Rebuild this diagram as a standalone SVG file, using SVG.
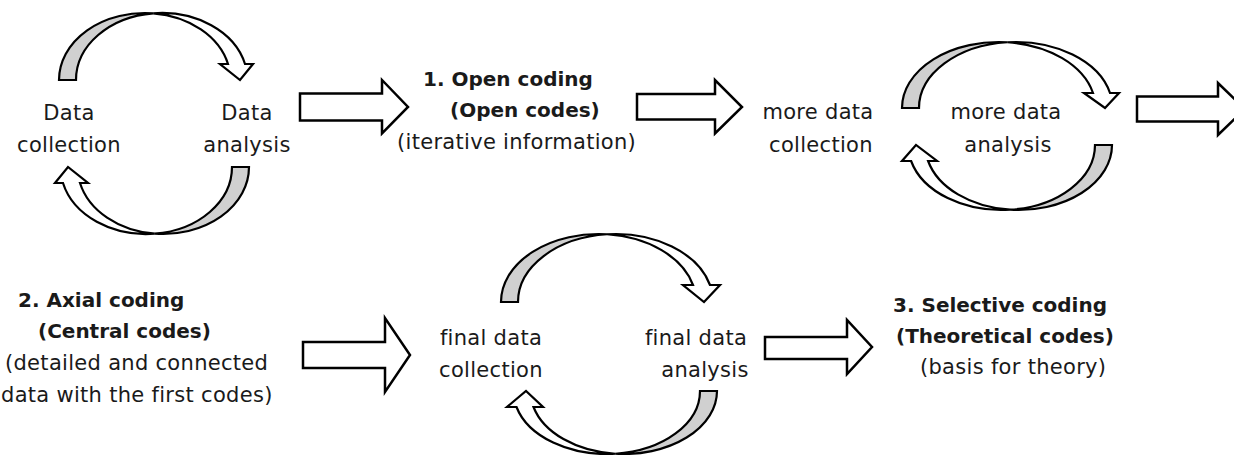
<svg xmlns="http://www.w3.org/2000/svg" width="1234" height="455" viewBox="0 0 1234 455">
<style>
.bg{fill:#fff}
.back{fill:#d0d0d0;stroke:#000;stroke-width:2.2;stroke-linejoin:miter}
.front{fill:#fff;stroke:#000;stroke-width:2.2;stroke-linejoin:miter}
.blk{fill:#fff;stroke:#000;stroke-width:2.5;stroke-linejoin:miter}
text{font-family:"DejaVu Sans",Verdana,sans-serif;font-size:21px;fill:#1a1a1a;letter-spacing:0.3px}
.m{text-anchor:middle}
.b{font-weight:bold;font-size:20px;letter-spacing:0}
</style>
<rect class="bg" x="0" y="0" width="1234" height="455"/>

<g id="cycle1">
  <g id="c1-top">
    <path class="back" d="M59,80 A85.74,67 0 0 1 153.24,13.33 A85.74,67 0 0 0 76,80 Z"/>
    <path class="front" d="M153.24,13.33 A85.74,67 0 0 1 245,64 L253,64 L240,80 L220,64 L228,64 A85.74,67 0 0 0 153.24,13.33 Z"/>
  </g>
  <g id="c1-bottom" transform="rotate(180 154 123.5)">
    <path class="back" d="M59,80 A85.74,67 0 0 1 153.24,13.33 A85.74,67 0 0 0 76,80 Z"/>
    <path class="front" d="M153.24,13.33 A85.74,67 0 0 1 245,64 L253,64 L240,80 L220,64 L228,64 A85.74,67 0 0 0 153.24,13.33 Z"/>
  </g>
  <g id="n-data-collection"><text class="m" x="69" y="120">Data</text><text class="m" x="69" y="152">collection</text></g>
  <g id="n-data-analysis"><text class="m" x="247" y="120">Data</text><text class="m" x="247" y="152">analysis</text></g>
</g>

<g id="n-open-coding">
  <text class="b" x="423" y="86">1. Open coding</text>
  <text class="b" x="450" y="117">(Open codes)</text>
  <text x="397" y="149">(iterative information)</text>
</g>

<g id="cycle2">
  <g id="c2-top">
    <path class="back" d="M902,108 A96.77,66 0 0 1 1007.27,42.26 A96.77,66 0 0 0 919,108 Z"/>
    <path class="front" d="M1007.27,42.26 A96.77,66 0 0 1 1110,93 L1119,93 L1105,108 L1084,93 L1093,93 A96.77,66 0 0 0 1007.27,42.26 Z"/>
  </g>
  <g id="c2-bottom">
    <path class="back" d="M1112,145 A93.4,65 0 0 1 1010.1,209.7 A93.4,65 0 0 0 1095,145 Z"/>
    <path class="front" d="M1010.1,209.7 A93.4,65 0 0 1 911.1,161 L902,161 L916,145 L937,161 L928.1,161 A93.4,65 0 0 0 1010.1,209.7 Z"/>
  </g>
  <g id="n-more-collection"><text class="m" x="818" y="119">more data</text><text class="m" x="821" y="152">collection</text></g>
  <g id="n-more-analysis"><text class="m" x="1006" y="119">more data</text><text class="m" x="1008" y="152">analysis</text></g>
</g>

<g id="n-axial-coding">
  <text class="b" x="18" y="307">2. Axial coding</text>
  <text class="b" x="38" y="338">(Central codes)</text>
  <text x="5" y="370">(detailed and connected</text>
  <text x="1" y="402">data with the first codes)</text>
</g>

<g id="cycle3">
  <g id="c3-top">
    <path class="back" d="M501,302 A97.55,68 0 0 1 607.05,234.26 A97.55,68 0 0 0 518,302 Z"/>
    <path class="front" d="M607.05,234.26 A97.55,68 0 0 1 710,285 L720,285 L704,302 L683,285 L693,285 A97.55,68 0 0 0 607.05,234.26 Z"/>
  </g>
  <g id="c3-bottom">
    <path class="back" d="M717,391 A93.28,63 0 0 1 615.22,453.74 A93.28,63 0 0 0 700,391 Z"/>
    <path class="front" d="M615.22,453.74 A93.28,63 0 0 1 516.5,407 L507,407 L526,391 L543,407 L533.5,407 A93.28,63 0 0 0 615.22,453.74 Z"/>
  </g>
  <g id="n-final-collection"><text class="m" x="491" y="345">final data</text><text class="m" x="491" y="377">collection</text></g>
  <g id="n-final-analysis"><text class="m" x="696" y="345">final data</text><text class="m" x="705" y="377">analysis</text></g>
</g>

<g id="n-selective-coding">
  <text class="b" x="893" y="312">3. Selective coding</text>
  <text class="b" x="896" y="343">(Theoretical codes)</text>
  <text x="920" y="374">(basis for theory)</text>
</g>

<g id="connectors">
  <path class="blk" d="M300,93.5 H382 V80 L408,107 L382,133.5 V120.5 H300 Z"/>
  <path class="blk" d="M637,94 H715 V80 L742,107 L715,133.5 V119.5 H637 Z"/>
  <path class="blk" d="M1137,96.5 H1218 V83 L1245,109 L1218,135 V121.5 H1137 Z"/>
  <path class="blk" d="M303,342 H385 V318 L410,355 L385,392 V368 H303 Z"/>
  <path class="blk" d="M765,337 H847 V320 L872,347 L847,374 V359 H765 Z"/>
</g>
</svg>
